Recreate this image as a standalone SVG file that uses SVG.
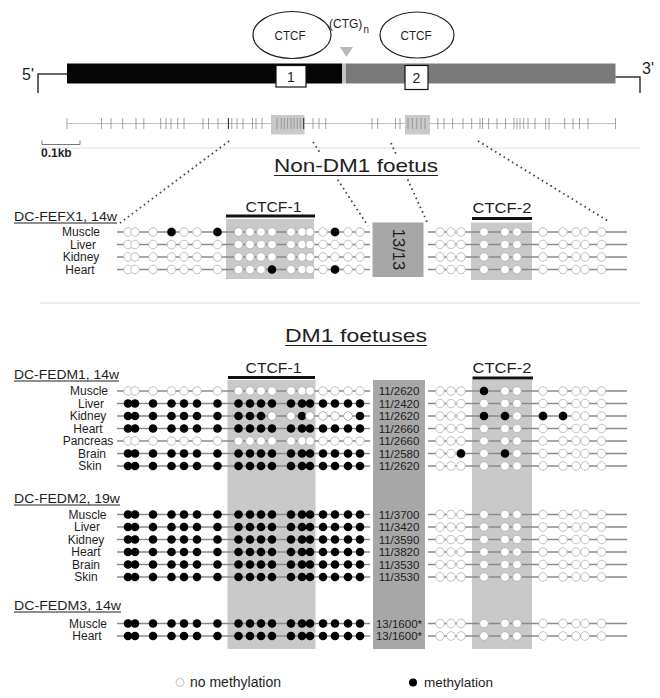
<svg xmlns="http://www.w3.org/2000/svg" xmlns:xlink="http://www.w3.org/1999/xlink" width="660" height="698" viewBox="0 0 660 698">
<style>
text{font-family:"Liberation Sans",Arial,sans-serif;fill:#1e1e1e}
.o{fill:#fff;stroke:#b0b0b0;stroke-width:0.8}
.f{fill:#000}
.rl{stroke:#8a8a8a;stroke-width:1.3}
.lab{font-size:12px;text-anchor:middle}
.cnt{font-size:11.5px;text-anchor:middle}
.hdr{font-size:13px}
.ul{stroke:#1e1e1e;stroke-width:1}
.bar{stroke:#111;stroke-width:3}
.box{fill:#c9c9c9}
.dark{fill:#a7a7a7}
.dot{stroke:#444;stroke-width:1.8;stroke-dasharray:1.6 3.4;fill:none}
.tk{stroke:#8c8c8c;stroke-width:0.8}
.tkd{stroke:#333;stroke-width:1.1}
.sep{stroke:#dedede;stroke-width:1}
</style>
<defs>
<g id="ln"><line class="rl" x1="117" y1="0" x2="370" y2="0"/><line class="rl" x1="428" y1="0" x2="627" y2="0"/></g>
<g id="Lo">
<circle class="o" cx="128" cy="0" r="4.3"/><circle class="o" cx="135" cy="0" r="4.3"/><circle class="o" cx="153" cy="0" r="4.3"/><circle class="o" cx="171.5" cy="0" r="4.3"/><circle class="o" cx="184" cy="0" r="4.3"/><circle class="o" cx="197" cy="0" r="4.3"/><circle class="o" cx="217.5" cy="0" r="4.3"/><circle class="o" cx="238.5" cy="0" r="4.3"/><circle class="o" cx="250" cy="0" r="4.3"/><circle class="o" cx="261" cy="0" r="4.3"/><circle class="o" cx="272" cy="0" r="4.3"/><circle class="o" cx="291" cy="0" r="4.3"/><circle class="o" cx="302" cy="0" r="4.3"/><circle class="o" cx="310" cy="0" r="4.3"/><circle class="o" cx="323" cy="0" r="4.3"/><circle class="o" cx="335" cy="0" r="4.3"/><circle class="o" cx="348" cy="0" r="4.3"/><circle class="o" cx="360" cy="0" r="4.3"/>
</g>
<g id="Lf">
<circle class="f" cx="128" cy="0" r="4.3"/><circle class="f" cx="135" cy="0" r="4.3"/><circle class="f" cx="153" cy="0" r="4.3"/><circle class="f" cx="171.5" cy="0" r="4.3"/><circle class="f" cx="184" cy="0" r="4.3"/><circle class="f" cx="197" cy="0" r="4.3"/><circle class="f" cx="217.5" cy="0" r="4.3"/><circle class="f" cx="238.5" cy="0" r="4.3"/><circle class="f" cx="250" cy="0" r="4.3"/><circle class="f" cx="261" cy="0" r="4.3"/><circle class="f" cx="272" cy="0" r="4.3"/><circle class="f" cx="291" cy="0" r="4.3"/><circle class="f" cx="302" cy="0" r="4.3"/><circle class="f" cx="310" cy="0" r="4.3"/><circle class="f" cx="323" cy="0" r="4.3"/><circle class="f" cx="335" cy="0" r="4.3"/><circle class="f" cx="348" cy="0" r="4.3"/><circle class="f" cx="360" cy="0" r="4.3"/>
</g>
<g id="Ro">
<circle class="o" cx="440" cy="0" r="4.3"/><circle class="o" cx="451" cy="0" r="4.3"/><circle class="o" cx="461" cy="0" r="4.3"/><circle class="o" cx="484" cy="0" r="4.3"/><circle class="o" cx="505" cy="0" r="4.3"/><circle class="o" cx="517" cy="0" r="4.3"/><circle class="o" cx="543" cy="0" r="4.3"/><circle class="o" cx="563" cy="0" r="4.3"/><circle class="o" cx="576" cy="0" r="4.3"/><circle class="o" cx="585" cy="0" r="4.3"/><circle class="o" cx="601.5" cy="0" r="4.3"/>
</g>
<g id="rowO"><use xlink:href="#ln"/><use xlink:href="#Lo"/><use xlink:href="#Ro"/></g>
<g id="rowF"><use xlink:href="#ln"/><use xlink:href="#Lf"/><use xlink:href="#Ro"/></g>
</defs>
<rect width="660" height="698" fill="#fff"/>

<g id="gene-map">
<polyline points="38,93 38,74 67,74" fill="none" stroke="#333" stroke-width="1.5"/>
<rect x="67" y="63.5" width="275" height="20" fill="#050505"/>
<rect x="342" y="63.5" width="4" height="20" fill="#c4c4c4"/>
<rect x="346" y="63.5" width="269.5" height="20" fill="#7a7a7a"/>
<polyline points="615.5,77 640,77 640,93" fill="none" stroke="#333" stroke-width="1.5"/>
<text x="34" y="80" font-size="16" text-anchor="end">5'</text>
<text x="642" y="74" font-size="16">3'</text>
</g>
<g id="ctcf-site-1">
<ellipse cx="292" cy="35" rx="39" ry="23.5" fill="#fff" stroke="#222" stroke-width="1.2"/>
<text x="290" y="40" font-size="13.5" text-anchor="middle" textLength="31" lengthAdjust="spacingAndGlyphs">CTCF</text>
<rect x="276" y="65.5" width="30" height="21.5" fill="#fff" stroke="#111" stroke-width="1.2"/>
<text x="291" y="82" font-size="14" text-anchor="middle">1</text>
</g>
<g id="ctcf-site-2">
<ellipse cx="417" cy="35" rx="37" ry="23" fill="#fff" stroke="#222" stroke-width="1.2"/>
<text x="416" y="40" font-size="13.5" text-anchor="middle" textLength="31" lengthAdjust="spacingAndGlyphs">CTCF</text>
<rect x="405" y="65.5" width="23" height="24" fill="#fff" stroke="#111" stroke-width="1.2"/>
<text x="416.5" y="83" font-size="14" text-anchor="middle">2</text>
</g>
<g id="ctg-repeat">
<text x="329" y="28" font-size="13.5" textLength="40" lengthAdjust="spacingAndGlyphs">(CTG)<tspan dx="1.5" dy="5" font-size="11">n</tspan></text>
<polygon points="340,47 353,47 346.5,57" fill="#b8b8b8"/>
</g>

<g id="cpg-map">
<line x1="67" y1="123.5" x2="615.5" y2="123.5" stroke="#bbb" stroke-width="1"/>
<rect x="271" y="115" width="33.5" height="19.5" class="box"/>
<rect x="405" y="115" width="25" height="19.5" class="box"/>
<g class="tk">
<line x1="67" y1="118" x2="67" y2="129"/><line x1="101.5" y1="118" x2="101.5" y2="129"/><line x1="111" y1="118" x2="111" y2="129"/><line x1="122.7" y1="118" x2="122.7" y2="129"/><line x1="136" y1="118" x2="136" y2="129"/><line x1="143.8" y1="118" x2="143.8" y2="129"/><line x1="160.7" y1="118" x2="160.7" y2="129"/><line x1="166" y1="118" x2="166" y2="129"/><line x1="171" y1="118" x2="171" y2="129"/><line x1="177.7" y1="118" x2="177.7" y2="129"/><line x1="184" y1="118" x2="184" y2="129"/><line x1="203" y1="118" x2="203" y2="129"/><line x1="208.5" y1="118" x2="208.5" y2="129"/><line x1="218" y1="118" x2="218" y2="129"/><line x1="231.8" y1="118" x2="231.8" y2="129"/><line x1="237" y1="118" x2="237" y2="129"/><line x1="243" y1="118" x2="243" y2="129"/><line x1="252.5" y1="118" x2="252.5" y2="129"/><line x1="256" y1="118" x2="256" y2="129"/><line x1="262" y1="118" x2="262" y2="129"/>
<line x1="277" y1="118" x2="277" y2="129"/><line x1="281.3" y1="118" x2="281.3" y2="129"/><line x1="284.3" y1="118" x2="284.3" y2="129"/><line x1="287.6" y1="118" x2="287.6" y2="129"/><line x1="291" y1="118" x2="291" y2="129"/><line x1="294" y1="118" x2="294" y2="129"/><line x1="297.4" y1="118" x2="297.4" y2="129"/><line x1="300.3" y1="118" x2="300.3" y2="129"/>
<line x1="313" y1="118" x2="313" y2="129"/><line x1="319" y1="118" x2="319" y2="129"/><line x1="325.7" y1="118" x2="325.7" y2="129"/><line x1="372" y1="118" x2="372" y2="129"/><line x1="377.7" y1="118" x2="377.7" y2="129"/><line x1="395.5" y1="118" x2="395.5" y2="129"/><line x1="400" y1="118" x2="400" y2="129"/>
<line x1="408" y1="118" x2="408" y2="129"/><line x1="412.4" y1="118" x2="412.4" y2="129"/><line x1="416.7" y1="118" x2="416.7" y2="129"/><line x1="421" y1="118" x2="421" y2="129"/><line x1="425" y1="118" x2="425" y2="129"/>
<line x1="437.8" y1="118" x2="437.8" y2="129"/><line x1="444" y1="118" x2="444" y2="129"/><line x1="452.6" y1="118" x2="452.6" y2="129"/><line x1="463" y1="118" x2="463" y2="129"/><line x1="471.7" y1="118" x2="471.7" y2="129"/><line x1="480" y1="118" x2="480" y2="129"/><line x1="482.5" y1="118" x2="482.5" y2="129"/><line x1="488.6" y1="118" x2="488.6" y2="129"/><line x1="497" y1="118" x2="497" y2="129"/><line x1="505.5" y1="118" x2="505.5" y2="129"/><line x1="514" y1="118" x2="514" y2="129"/><line x1="517" y1="118" x2="517" y2="129"/><line x1="520" y1="118" x2="520" y2="129"/><line x1="523.7" y1="118" x2="523.7" y2="129"/><line x1="528" y1="118" x2="528" y2="129"/><line x1="535" y1="118" x2="535" y2="129"/><line x1="545.7" y1="118" x2="545.7" y2="129"/><line x1="549" y1="118" x2="549" y2="129"/><line x1="564.7" y1="118" x2="564.7" y2="129"/><line x1="573" y1="118" x2="573" y2="129"/><line x1="579.5" y1="118" x2="579.5" y2="129"/><line x1="588" y1="118" x2="588" y2="129"/><line x1="615.5" y1="118" x2="615.5" y2="129"/>
</g>
<line class="tkd" x1="228.4" y1="118" x2="228.4" y2="129"/><line class="tkd" x1="303.7" y1="118" x2="303.7" y2="129"/>
</g>
<g id="scale-bar">
<polyline points="42,140.5 42,144.5 80,144.5 80,140.5" fill="none" stroke="#777" stroke-width="1"/>
<text x="41" y="157" font-size="12" font-weight="bold" fill="#333">0.1kb</text>
</g>
<line class="sep" x1="40" y1="148" x2="640" y2="148"/>
<line class="sep" x1="40" y1="303" x2="640" y2="303"/>

<g id="connectors">
<line class="dot" x1="229" y1="141" x2="120" y2="223"/>
<line class="dot" x1="313" y1="142" x2="368" y2="226"/>
<line class="dot" x1="391" y1="143" x2="428" y2="224"/>
<line class="dot" x1="478" y1="141" x2="608" y2="221"/>
</g>

<g id="non-dm1">
<rect x="266" y="154" width="180" height="25" fill="#fff"/>
<text x="356" y="172" font-size="19" text-anchor="middle" textLength="164" lengthAdjust="spacingAndGlyphs">Non-DM1 foetus</text>
<line class="ul" x1="274" y1="175.5" x2="438" y2="175.5" stroke-width="1.2"/>
<rect class="box" x="226" y="219" width="88" height="60"/>
<rect class="dark" x="372.5" y="222.5" width="51" height="54.5"/>
<rect class="box" x="471" y="222.5" width="61" height="57.5"/>
<text x="273.5" y="212" font-size="15" text-anchor="middle" textLength="56" lengthAdjust="spacingAndGlyphs">CTCF-1</text>
<line class="bar" x1="226" y1="216" x2="315" y2="216"/>
<text x="502" y="213" font-size="15" text-anchor="middle" textLength="59" lengthAdjust="spacingAndGlyphs">CTCF-2</text>
<line class="bar" x1="472" y1="218.5" x2="532" y2="218.5"/>
<text transform="translate(392.5,249.5) rotate(90)" font-size="16.5" text-anchor="middle">13/13</text>
<text class="hdr" x="14" y="220.5" textLength="103" lengthAdjust="spacingAndGlyphs">DC-FEFX1, 14w</text>
<line class="ul" x1="14" y1="223" x2="117" y2="223"/>
<g id="fefx1-muscle" transform="translate(0,232)"><use xlink:href="#rowO"/><circle class="f" cx="171.5" cy="0" r="4.3"/><circle class="f" cx="217.5" cy="0" r="4.3"/><circle class="f" cx="335" cy="0" r="4.3"/><text class="lab" x="81" y="4">Muscle</text></g>
<g id="fefx1-liver" transform="translate(0,244.5)"><use xlink:href="#rowO"/><text class="lab" x="83" y="4">Liver</text></g>
<g id="fefx1-kidney" transform="translate(0,257)"><use xlink:href="#rowO"/><text class="lab" x="81" y="4">Kidney</text></g>
<g id="fefx1-heart" transform="translate(0,269.5)"><use xlink:href="#rowO"/><circle class="f" cx="272" cy="0" r="4.3"/><circle class="f" cx="335" cy="0" r="4.3"/><text class="lab" x="80" y="4">Heart</text></g>
</g>

<g id="dm1">
<text x="356" y="342" font-size="19" text-anchor="middle" textLength="142" lengthAdjust="spacingAndGlyphs">DM1 foetuses</text>
<line class="ul" x1="285" y1="345.5" x2="427" y2="345.5" stroke-width="1.2"/>
<rect class="box" x="227.5" y="380" width="88" height="269"/>
<rect class="dark" x="373" y="380" width="52" height="269"/>
<rect class="box" x="472" y="380" width="60" height="269"/>
<text x="273.5" y="373" font-size="15" text-anchor="middle" textLength="56" lengthAdjust="spacingAndGlyphs">CTCF-1</text>
<line class="bar" x1="228" y1="377.5" x2="315" y2="377.5"/>
<text x="502" y="373" font-size="15" text-anchor="middle" textLength="59" lengthAdjust="spacingAndGlyphs">CTCF-2</text>
<line class="bar" x1="472.5" y1="378" x2="533" y2="378"/>

<text class="hdr" x="14" y="378.5" textLength="105" lengthAdjust="spacingAndGlyphs">DC-FEDM1, 14w</text>
<line class="ul" x1="14" y1="381" x2="119" y2="381"/>
<g id="fedm1-muscle" transform="translate(0,391)"><use xlink:href="#rowO"/><circle class="f" cx="484" cy="0" r="4.3"/><text class="lab" x="89" y="4">Muscle</text><text class="cnt" x="399" y="4">11/2620</text></g>
<g id="fedm1-liver" transform="translate(0,403.5)"><use xlink:href="#rowF"/><text class="lab" x="91" y="4">Liver</text><text class="cnt" x="399" y="4">11/2420</text></g>
<g id="fedm1-kidney" transform="translate(0,416)"><use xlink:href="#rowF"/><circle class="o" cx="272" cy="0" r="4.3"/><circle class="o" cx="291" cy="0" r="4.3"/><circle class="o" cx="310" cy="0" r="4.3"/><circle class="o" cx="323" cy="0" r="4.3"/><circle class="o" cx="335" cy="0" r="4.3"/><circle class="o" cx="348" cy="0" r="4.3"/><circle class="f" cx="484" cy="0" r="4.3"/><circle class="f" cx="505" cy="0" r="4.3"/><circle class="f" cx="543" cy="0" r="4.3"/><circle class="f" cx="563" cy="0" r="4.3"/><text class="lab" x="88" y="4">Kidney</text><text class="cnt" x="399" y="4">11/2620</text></g>
<g id="fedm1-heart" transform="translate(0,428.5)"><use xlink:href="#rowF"/><text class="lab" x="88" y="4">Heart</text><text class="cnt" x="399" y="4">11/2660</text></g>
<g id="fedm1-pancreas" transform="translate(0,441)"><use xlink:href="#rowO"/><text class="lab" x="88" y="4">Pancreas</text><text class="cnt" x="399" y="4">11/2660</text></g>
<g id="fedm1-brain" transform="translate(0,453.5)"><use xlink:href="#rowF"/><circle class="f" cx="461" cy="0" r="4.3"/><circle class="f" cx="505" cy="0" r="4.3"/><text class="lab" x="92" y="4">Brain</text><text class="cnt" x="399" y="4">11/2580</text></g>
<g id="fedm1-skin" transform="translate(0,466)"><use xlink:href="#rowF"/><text class="lab" x="90" y="4">Skin</text><text class="cnt" x="399" y="4">11/2620</text></g>

<text class="hdr" x="14" y="502.5" textLength="106" lengthAdjust="spacingAndGlyphs">DC-FEDM2, 19w</text>
<line class="ul" x1="14" y1="505" x2="120" y2="505"/>
<g id="fedm2-muscle" transform="translate(0,514.5)"><use xlink:href="#rowF"/><text class="lab" x="87.5" y="4">Muscle</text><text class="cnt" x="399" y="4">11/3700</text></g>
<g id="fedm2-liver" transform="translate(0,527)"><use xlink:href="#rowF"/><text class="lab" x="87" y="4">Liver</text><text class="cnt" x="399" y="4">11/3420</text></g>
<g id="fedm2-kidney" transform="translate(0,539.5)"><use xlink:href="#rowF"/><text class="lab" x="86" y="4">Kidney</text><text class="cnt" x="399" y="4">11/3590</text></g>
<g id="fedm2-heart" transform="translate(0,552)"><use xlink:href="#rowF"/><text class="lab" x="86" y="4">Heart</text><text class="cnt" x="399" y="4">11/3820</text></g>
<g id="fedm2-brain" transform="translate(0,564.5)"><use xlink:href="#rowF"/><text class="lab" x="86" y="4">Brain</text><text class="cnt" x="399" y="4">11/3530</text></g>
<g id="fedm2-skin" transform="translate(0,577)"><use xlink:href="#rowF"/><text class="lab" x="86" y="4">Skin</text><text class="cnt" x="399" y="4">11/3530</text></g>

<text class="hdr" x="14" y="609.5" textLength="107" lengthAdjust="spacingAndGlyphs">DC-FEDM3, 14w</text>
<line class="ul" x1="14" y1="612" x2="121" y2="612"/>
<g id="fedm3-muscle" transform="translate(0,623.5)"><use xlink:href="#rowF"/><text class="lab" x="88" y="4">Muscle</text><text class="cnt" x="399" y="4">13/1600*</text></g>
<g id="fedm3-heart" transform="translate(0,636)"><use xlink:href="#rowF"/><text class="lab" x="87" y="4">Heart</text><text class="cnt" x="399" y="4">13/1600*</text></g>
</g>

<g id="legend">
<circle class="o" cx="180" cy="682.5" r="4"/>
<text x="190" y="687" font-size="14">no methylation</text>
<circle class="f" cx="413" cy="682.5" r="4"/>
<text x="424" y="687" font-size="13.5">methylation</text>
</g>
</svg>
